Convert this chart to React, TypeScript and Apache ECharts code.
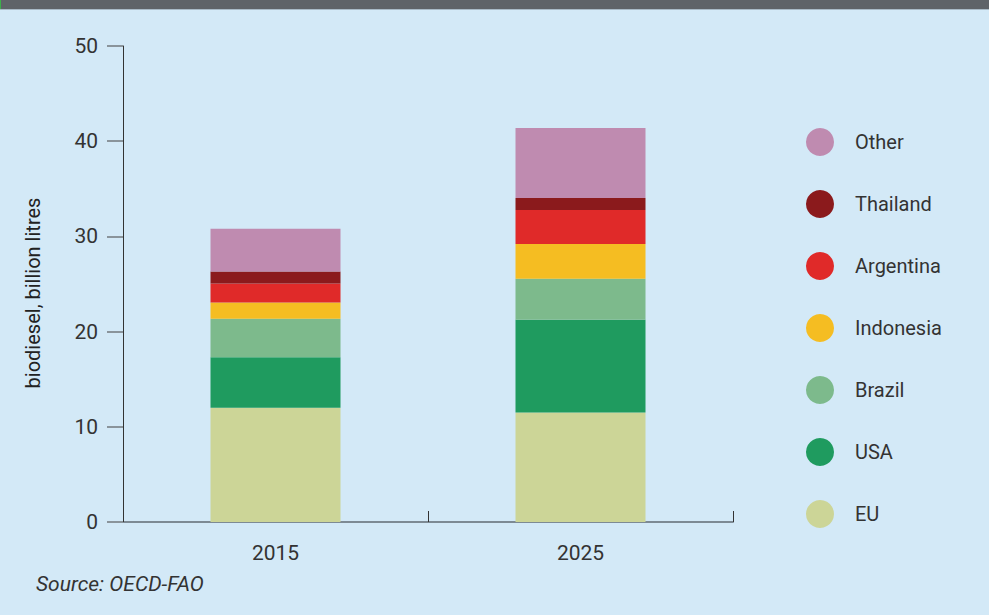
import React, { useEffect, useRef } from "react";
import * as echarts from "echarts";

const categories = ["2015", "2025"];
const seriesNames = ["EU", "USA", "Brazil", "Indonesia", "Argentina", "Thailand", "Other"];
const euValues = [12.0, 11.5];
const usaValues = [5.3, 9.75];
const brazilValues = [4.05, 4.3];
const indonesiaValues = [1.7, 3.65];
const argentinaValues = [2.0, 3.57];
const thailandValues = [1.25, 1.27];
const otherValues = [4.5, 7.34];
const yTicks = { min: 0, max: 50, interval: 10 };
const legendOrder = ["Other", "Thailand", "Argentina", "Indonesia", "Brazil", "USA", "EU"];
const colors = ["#ccd597", "#1f9b5f", "#7dba8c", "#f5bd22", "#e02a29", "#8b1a1c", "#bf8bb0"];

const allValues = [euValues, usaValues, brazilValues, indonesiaValues, argentinaValues, thailandValues, otherValues];

export default function App() {
  const ref = useRef<HTMLDivElement>(null);
  useEffect(() => {
    if (!ref.current) return;
    const chart = echarts.init(ref.current, null, { renderer: "svg" });
    const font = "Roboto, 'Noto Sans', sans-serif";
    chart.setOption({
      animation: false,
      backgroundColor: "#d3e9f7",
      textStyle: { fontFamily: font },
      grid: { left: 123, right: 256, top: 46, bottom: 93, containLabel: false },
      legend: {
        orient: "vertical",
        left: 801,
        top: 123,
        data: legendOrder,
        icon: "circle",
        itemWidth: 28,
        itemHeight: 28,
        itemGap: 34,
        selectedMode: false,
        textStyle: { fontSize: 20, color: "#333333", fontFamily: font, padding: [0, 0, 0, 16] },
      },
      xAxis: {
        type: "category",
        data: categories,
        axisLine: { show: true, lineStyle: { color: "#7d8a94", width: 2 } },
        axisTick: { show: true, inside: true, length: 11, alignWithLabel: false, lineStyle: { color: "#333333", width: 1 } },
        axisLabel: { fontSize: 21, color: "#333333", margin: 20, fontFamily: font },
        splitLine: { show: false },
      },
      yAxis: {
        type: "value",
        min: yTicks.min,
        max: yTicks.max,
        interval: yTicks.interval,
        axisLine: { show: true, lineStyle: { color: "#333333", width: 1 } },
        axisTick: { show: true, length: 16, lineStyle: { color: "#8a949b", width: 2 } },
        axisLabel: { fontSize: 21, color: "#333333", margin: 25, fontFamily: font },
        splitLine: { show: false },
      },
      series: seriesNames.map((name, i) => ({
        name,
        type: "bar",
        stack: "total",
        barWidth: 130,
        data: allValues[i],
        itemStyle: { color: colors[i] },
        emphasis: { disabled: true },
      })),
      graphic: [
        { type: "rect", left: 0, top: 0, shape: { width: 989, height: 9 }, style: { fill: "#5f6368" }, z: 10 },
        { type: "rect", left: 0, top: 9, shape: { width: 989, height: 1 }, style: { fill: "#a9bac6" }, z: 10 },
        { type: "rect", left: 0, top: 0, shape: { width: 1, height: 9 }, style: { fill: "#3cb04a" }, z: 11 },
        {
          type: "text",
          x: 33,
          y: 293,
          rotation: Math.PI / 2,
          style: {
            text: "biodiesel, billion litres",
            fontSize: 20,
            fontFamily: font,
            fill: "#222222",
            align: "center",
            verticalAlign: "middle",
          },
        },
        {
          type: "text",
          x: 36,
          y: 584,
          style: {
            text: "Source: OECD-FAO",
            fontSize: 21,
            fontStyle: "italic",
            fontFamily: font,
            fill: "#333333",
            align: "left",
            verticalAlign: "middle",
          },
        },
      ],
    });
    return () => chart.dispose();
  }, []);
  return <div ref={ref} style={{ position: "absolute", left: 0, top: 0, width: 989, height: 615 }} />;
}
